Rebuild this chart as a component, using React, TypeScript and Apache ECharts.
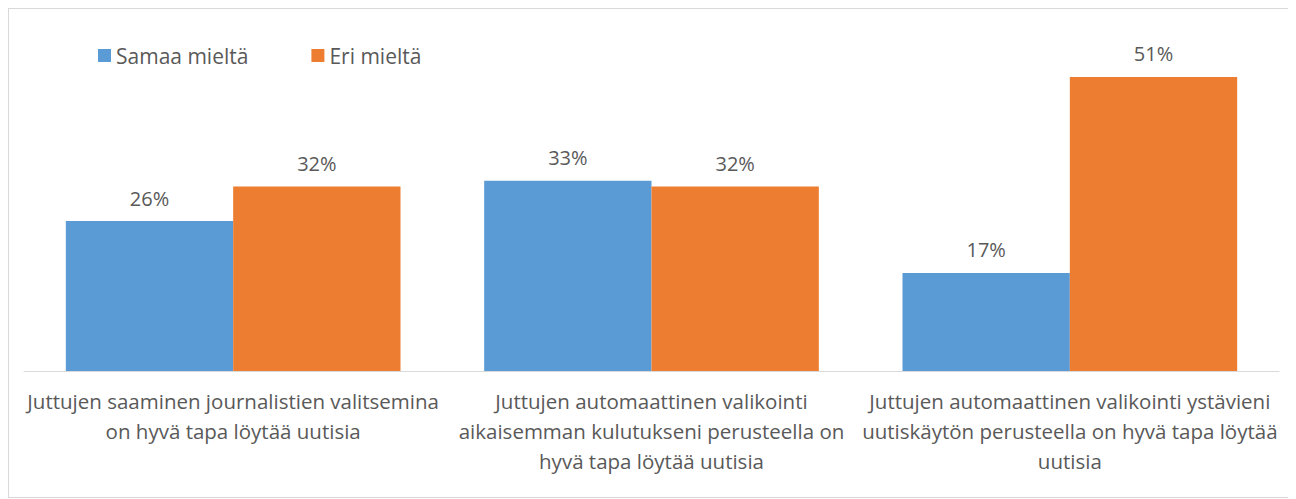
import React, { useEffect, useRef } from "react";
import * as echarts from "echarts";

const categories = [
  "Juttujen saaminen journalistien valitsemina\non hyvä tapa löytää uutisia",
  "Juttujen automaattinen valikointi\naikaisemman kulutukseni perusteella on\nhyvä tapa löytää uutisia",
  "Juttujen automaattinen valikointi ystävieni\nuutiskäytön perusteella on hyvä tapa löytää\nuutisia",
];
const samaaMielta = [26, 33, 17];
const eriMielta = [32, 32, 51];
const seriesNames = ["Samaa mieltä", "Eri mieltä"];

const FONT = "'Open Sans', sans-serif";
const TEXT = "#595959";

export default function App() {
  const ref = useRef<HTMLDivElement>(null);
  useEffect(() => {
    if (!ref.current) return;
    const chart = echarts.init(ref.current, null, { renderer: "svg" });
    const label = {
      show: true,
      position: "top" as const,
      distance: 13,
      formatter: "{c}%",
      color: TEXT,
      fontSize: 20,
      fontFamily: FONT,
    };
    chart.setOption({
      animation: false,
      backgroundColor: "#ffffff",
      textStyle: { fontFamily: FONT },
      legend: {
        left: 84,
        top: 31,
        itemWidth: 13,
        itemHeight: 13,
        itemGap: 63,
        icon: "rect",
        textStyle: { color: TEXT, fontSize: 21, fontFamily: FONT },
        data: seriesNames,
      },
      grid: { left: 15, right: 12, top: 16, bottom: 126, containLabel: false },
      xAxis: {
        type: "category",
        data: categories,
        axisLine: { lineStyle: { color: "#d9d9d9", width: 1 } },
        axisTick: { show: false },
        axisLabel: {
          color: TEXT,
          fontSize: 20.5,
          fontFamily: FONT,
          lineHeight: 30,
          margin: 15,
          interval: 0,
          align: "center",
        },
      },
      yAxis: {
        type: "value",
        min: 0,
        max: 60,
        show: false,
        splitLine: { show: false },
      },
      series: [
        {
          name: seriesNames[0],
          type: "bar",
          data: samaaMielta,
          itemStyle: { color: "#5b9bd5" },
          barGap: "0%",
          barCategoryGap: "20%",
          label,
        },
        {
          name: seriesNames[1],
          type: "bar",
          data: eriMielta,
          itemStyle: { color: "#ed7d31" },
          barGap: "0%",
          barCategoryGap: "20%",
          label,
        },
      ],
    });
    return () => chart.dispose();
  }, []);
  return (
    <div
      ref={ref}
      style={{
        width: 1284,
        height: 490,
        border: "1px solid #d9d9d9",
        boxSizing: "border-box",
      }}
    />
  );
}
